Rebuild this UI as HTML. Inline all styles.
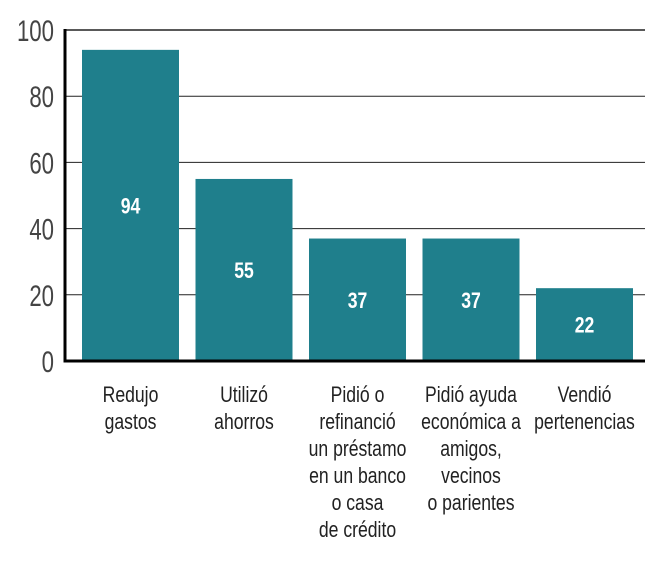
<!DOCTYPE html>
<html><head><meta charset="utf-8"><style>
body{margin:0;background:#fff;width:666px;height:565px;overflow:hidden}
</style></head><body>
<svg id="c" width="666" height="565" xmlns="http://www.w3.org/2000/svg" font-family="Liberation Sans, sans-serif"></svg>
<script>
const categories=[["Redujo","gastos"],["Utilizó","ahorros"],["Pidió o","refinanció","un préstamo","en un banco","o casa","de crédito"],["Pidió ayuda","económica a","amigos,","vecinos","o parientes"],["Vendió","pertenencias"]];
const values=[94,55,37,37,22];
const ticks=[0,20,40,60,80,100];
const NS="http://www.w3.org/2000/svg",svg=document.getElementById('c');
const x0=65,x1=645,yTop=30,yBot=361,bw=97,step=113.5,first=82;
const y=v=>yBot-(v/100)*(yBot-yTop);
function mk(t,a,p){const e=document.createElementNS(NS,t);for(const k in a)e.setAttribute(k,a[k]);(p||svg).appendChild(e);return e;}
ticks.forEach(t=>{
 if(t>0){const l=mk('line',{x1:x0,x2:x1,y1:y(t),y2:y(t),stroke:'#222','stroke-width':t==100?1.5:1});
 
 }
 const tx=mk('text',{x:0,y:0,'font-size':30,fill:'#444','text-anchor':'end',transform:`translate(54,${y(t)+11}) scale(0.74,1)`});
 tx.textContent=t;
 
 
});
values.forEach((v,i)=>{
 const bx=first+i*step;
 const r=mk('rect',{x:bx,y:y(v),width:bw,height:yBot-y(v),fill:'#1f7f8c'});
 
 
 const t=mk('text',{x:0,y:0,'font-size':22,'font-weight':'bold',fill:'#fff','text-anchor':'middle',transform:`translate(${bx+bw/2},${(y(v)+yBot)/2+8}) scale(0.8,1)`});
 t.textContent=v;
 
 
 const g=mk('text',{x:0,y:0,'font-size':22,fill:'#222','text-anchor':'middle',transform:`translate(${bx+bw/2},402) scale(0.8,1)`});
 
 
 categories[i].forEach((s,j)=>{const ts=mk('tspan',{x:0,dy:j?27:0},g);ts.textContent=s;});
});
const ax=mk('line',{x1:x0,x2:x0,y1:yTop-1,y2:yBot+1.5,stroke:'#000','stroke-width':3});


const bx=mk('line',{x1:x0-1.5,x2:x1,y1:yBot,y2:yBot,stroke:'#000','stroke-width':3});


</script>
</body></html>
